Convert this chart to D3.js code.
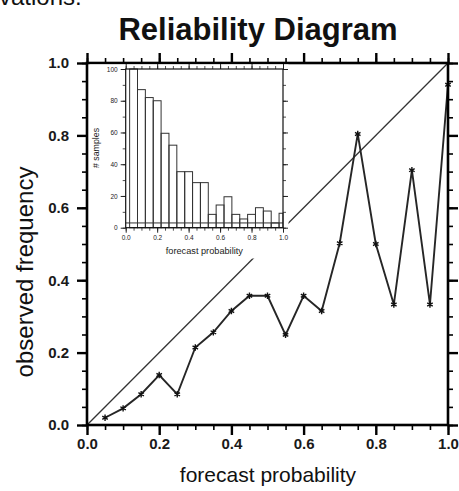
<!DOCTYPE html>
<html>
<head>
<meta charset="utf-8">
<script src="https://cdn.jsdelivr.net/npm/d3@7"></script>
<style>
  html, body { margin: 0; padding: 0; background: #fff; }
  svg { display: block; font-family: "Liberation Sans", Arial, Helvetica, sans-serif; }
</style>
</head>
<body>
<svg id="chart" width="459" height="491"></svg>
<script>
// Reliability curve: forecast probability bins vs observed frequency
const forecastProb = [0.05, 0.10, 0.15, 0.20, 0.25, 0.30, 0.35, 0.40, 0.45, 0.50,
                      0.55, 0.60, 0.65, 0.70, 0.75, 0.80, 0.85, 0.90, 0.95, 1.00];
const observedFreq = [0.02, 0.046, 0.085, 0.138, 0.085, 0.214, 0.256, 0.315, 0.357, 0.357,
                      0.249, 0.357, 0.315, 0.502, 0.804, 0.50, 0.333, 0.704, 0.333, 0.94];
// Sample counts per forecast bin (inset histogram)
const sampleCounts = [100, 87, 82, 80, 59.5, 52, 35.3, 35.3, 28.4, 28.4,
                      8.4, 14.3, 19.5, 8.4, 5.5, 8.4, 12.6, 10.5, 3, 9.1];
const sampleFloor = 3;
const mainTicks = [0, 0.2, 0.4, 0.6, 0.8, 1.0];
const insetXTicks = [0, 0.2, 0.4, 0.6, 0.8, 1.0];
const insetYTicks = [0, 20, 40, 60, 80, 100];

const svg = d3.select("#chart");
const fmt = d3.format(".1f");

// cut-off text line above the title
svg.append("text").attr("x", -1).attr("y", 5)
  .attr("font-size", 24).attr("fill", "#111").text("vations:");

const x = d3.scaleLinear().domain([0, 1]).range([87, 448]);
const y = d3.scaleLinear().domain([0, 1]).range([425, 63]);

// Title
svg.append("text").attr("x", 258).attr("y", 40)
  .attr("text-anchor", "middle").attr("font-weight", "bold")
  .attr("font-size", 31).attr("fill", "#111").text("Reliability Diagram");

// Perfect-reliability diagonal
svg.append("line")
  .attr("x1", x(0)).attr("y1", y(0)).attr("x2", x(1)).attr("y2", y(1))
  .attr("stroke", "#333").attr("stroke-width", 1.3);

// Reliability curve
const line = d3.line().x((d, i) => x(forecastProb[i])).y(d => y(d));
svg.append("path").datum(observedFreq)
  .attr("d", line).attr("fill", "none")
  .attr("stroke", "#262626").attr("stroke-width", 1.9);

svg.append("g").selectAll("path").data(observedFreq).join("path")
  .attr("transform", (d, i) => `translate(${x(forecastProb[i])},${y(d)})`)
  .attr("d", d3.symbol().type(d3.symbolAsterisk).size(28))
  .attr("fill", "none").attr("stroke", "#111").attr("stroke-width", 1.4);

// Main axes: major + minor ticks outward on all four sides
const minorTicks = d3.range(0, 1.0001, 0.05);
function drawAxis(make, scale, tf, withLabels, pad) {
  const g = svg.append("g").attr("transform", tf);
  g.call(make(scale).tickValues(minorTicks).tickSize(5).tickSizeOuter(0).tickFormat(""));
  g.select(".domain").remove();
  g.selectAll("line").attr("stroke", "#000").attr("stroke-width", 1.6);
  const g2 = svg.append("g").attr("transform", tf);
  g2.call(make(scale).tickValues(mainTicks).tickSize(10).tickPadding(pad || 3)
    .tickSizeOuter(0).tickFormat(withLabels ? fmt : ""));
  g2.select(".domain").remove();
  g2.selectAll("line").attr("stroke", "#000").attr("stroke-width", 2.4);
  g2.selectAll("text").attr("font-size", 15).attr("font-weight", "bold").attr("fill", "#1a1a1a")
    .attr("font-family", "'Liberation Sans', Arial, sans-serif");
}
drawAxis(d3.axisBottom, x, `translate(0,${y(0)})`, true, 3);
drawAxis(d3.axisLeft, y, `translate(${x(0)},0)`, true, 8);
drawAxis(d3.axisTop, x, `translate(0,${y(1)})`, false);
drawAxis(d3.axisRight, y, `translate(${x(1)},0)`, false);

svg.append("rect")
  .attr("x", x(0)).attr("y", y(1))
  .attr("width", x(1) - x(0)).attr("height", y(0) - y(1))
  .attr("fill", "none").attr("stroke", "#000").attr("stroke-width", 2.6);

// Axis titles
svg.append("text").attr("x", 268).attr("y", 482)
  .attr("text-anchor", "middle").attr("font-size", 21).attr("fill", "#111")
  .text("forecast probability");
svg.append("text")
  .attr("transform", "translate(33,272) rotate(-90)")
  .attr("text-anchor", "middle").attr("font-size", 24).attr("fill", "#111")
  .text("observed frequency");

// ---- Inset histogram of sample counts ----
const ix = d3.scaleLinear().domain([0, 1]).range([125.7, 283]);
const iy = d3.scaleLinear().domain([0, 100]).range([227.7, 69]);

svg.append("rect").attr("x", 89.5).attr("y", 64.5)
  .attr("width", 199).attr("height", 194).attr("fill", "#fff");

const inset = svg.append("g");
const half = 0.025;
inset.selectAll("rect.bar").data(sampleCounts).join("rect")
  .attr("class", "bar")
  .attr("x", (d, i) => ix(forecastProb[i] - half))
  .attr("width", (d, i) => ix(Math.min(1, forecastProb[i] + half)) - ix(forecastProb[i] - half))
  .attr("y", d => iy(d))
  .attr("height", d => iy(0) - iy(d))
  .attr("fill", "none").attr("stroke", "#333").attr("stroke-width", 1);

inset.append("line")
  .attr("x1", ix(0)).attr("x2", ix(1))
  .attr("y1", iy(sampleFloor)).attr("y2", iy(sampleFloor))
  .attr("stroke", "#333").attr("stroke-width", 1);

function insetAxis(make, scale, tf, major, minor, labels) {
  const g = inset.append("g").attr("transform", tf);
  g.call(make(scale).tickValues(minor).tickSize(3).tickSizeOuter(0).tickFormat(""));
  g.select(".domain").remove();
  g.selectAll("line").attr("stroke", "#222").attr("stroke-width", 0.8);
  const g2 = inset.append("g").attr("transform", tf);
  g2.call(make(scale).tickValues(major).tickSize(5).tickPadding(3).tickSizeOuter(0)
    .tickFormat(labels ? labels : ""));
  g2.select(".domain").remove();
  g2.selectAll("line").attr("stroke", "#222").attr("stroke-width", 1);
  g2.selectAll("text").attr("font-size", 6.5).attr("fill", "#222")
    .attr("font-family", "'Liberation Sans', Arial, sans-serif");
}
const iMinorX = d3.range(0, 1.0001, 0.05);
const iMinorY = d3.range(0, 100.001, 10);
insetAxis(d3.axisBottom, ix, `translate(0,${iy(0)})`, insetXTicks, iMinorX, fmt);
insetAxis(d3.axisTop, ix, `translate(0,${iy(100)})`, insetXTicks, iMinorX, null);
insetAxis(d3.axisLeft, iy, `translate(${ix(0)},0)`, insetYTicks, iMinorY, d3.format("d"));
insetAxis(d3.axisRight, iy, `translate(${ix(1)},0)`, insetYTicks, iMinorY, null);

inset.append("rect")
  .attr("x", ix(0)).attr("y", iy(100))
  .attr("width", ix(1) - ix(0)).attr("height", iy(0) - iy(100))
  .attr("fill", "none").attr("stroke", "#111").attr("stroke-width", 1.2);

inset.append("text").attr("x", (ix(0) + ix(1)) / 2).attr("y", 254)
  .attr("text-anchor", "middle").attr("font-size", 9.2).attr("fill", "#222")
  .text("forecast probability");
inset.append("text")
  .attr("transform", "translate(99,148) rotate(-90)")
  .attr("text-anchor", "middle").attr("font-size", 8.8).attr("fill", "#222")
  .text("# samples");
</script>
</body>
</html>
